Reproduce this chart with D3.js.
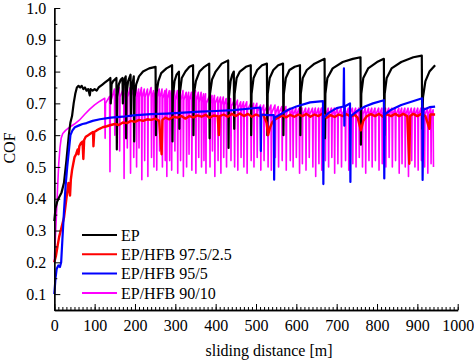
<!DOCTYPE html>
<html><head><meta charset="utf-8">
<script src="https://cdn.jsdelivr.net/npm/d3@7"></script>
<style>
body{margin:0;background:#fff;}
svg text{font-family:'Liberation Serif','DejaVu Serif',serif !important;}
</style></head>
<body><svg id="c" width="474" height="362"></svg>
<script>
const xTicks=[0,100,200,300,400,500,600,700,800,900,1000];
const yTicks=[0.1,0.2,0.3,0.4,0.5,0.6,0.7,0.8,0.9,1.0];
const seriesNames=["EP","EP/HFB 97.5/2.5","EP/HFB 95/5","EP/HFB 90/10"];
const seriesColors=["#000000","#ff0000","#0000ff","#ff00ff"];

const ep=[[0,0.33],[3,0.37],[7,0.39],[12,0.405],[18,0.42],[24,0.45],[30,0.52],[36,0.60],[40,0.64],[44,0.66],[48,0.70],[52,0.73],[56,0.75],[60,0.755],[64,0.75],[68,0.755],[72,0.745],[76,0.75],[80,0.74],[84,0.745],[88,0.725],[90,0.745],[95,0.74],[100,0.745],[105,0.74],[110,0.75],[115,0.755],[120,0.76],[125,0.765],[130,0.77],[135,0.775],[139,0.78],[140,0.70],[142,0.76],[146,0.77],[150,0.775],[154,0.78],[155,0.555],[156,0.72],[160,0.76],[165,0.775],[169,0.78],[170,0.70],[172,0.77],[177,0.785],[178,0.59],[179,0.73],[183,0.77],[189,0.79],[190,0.66],[191,0.74],[197,0.785],[198,0.58],[199,0.72],[203,0.76],[210,0.785],[220,0.80],[235,0.81],[251,0.815],[252,0.60],[253,0.73],[258,0.77],[265,0.795],[278,0.81],[292,0.82],[293,0.58],[294,0.72],[298,0.77],[303,0.79],[309,0.80],[310,0.62],[311,0.73],[316,0.78],[325,0.80],[335,0.815],[344,0.82],[345,0.60],[346,0.73],[351,0.77],[360,0.80],[372,0.815],[384,0.825],[385,0.59],[386,0.73],[391,0.775],[400,0.80],[415,0.825],[431,0.835],[432,0.56],[433,0.72],[437,0.77],[441,0.79],[445,0.80],[446,0.62],[447,0.73],[452,0.78],[460,0.80],[475,0.815],[487,0.82],[488,0.60],[489,0.73],[494,0.78],[503,0.805],[515,0.82],[527,0.825],[528,0.60],[529,0.73],[534,0.78],[543,0.805],[555,0.82],[567,0.825],[568,0.60],[569,0.73],[574,0.78],[583,0.805],[596,0.815],[609,0.82],[610,0.60],[611,0.73],[616,0.78],[626,0.805],[645,0.825],[670,0.84],[671,0.59],[672,0.73],[677,0.78],[690,0.81],[715,0.83],[740,0.84],[759,0.845],[760,0.57],[761,0.73],[766,0.78],[778,0.81],[800,0.83],[817,0.84],[818,0.60],[819,0.73],[824,0.78],[836,0.81],[860,0.83],[890,0.845],[911,0.85],[912,0.62],[914,0.72],[920,0.77],[930,0.80],[944,0.82]];

const hfb25=[[0,0.20],[4,0.22],[8,0.25],[12,0.28],[16,0.30],[20,0.32],[24,0.34],[28,0.38],[32,0.42],[35,0.45],[37,0.43],[39,0.41],[41,0.46],[44,0.49],[47,0.51],[50,0.53],[54,0.54],[58,0.555],[60,0.54],[62,0.565],[66,0.575],[70,0.58],[72,0.525],[74,0.585],[78,0.595],[84,0.60],[90,0.605],[96,0.61],[97,0.565],[99,0.61],[105,0.615],[112,0.62],[120,0.625],[130,0.628],[140,0.632],[150,0.635],[160,0.632],[170,0.64],[180,0.638],[190,0.645],[200,0.642],[210,0.648],[220,0.645],[230,0.65],[240,0.648],[250,0.652],[260,0.645],[266,0.54],[268,0.648],[275,0.655],[285,0.65],[295,0.658],[305,0.655],[315,0.66],[325,0.652],[335,0.66],[345,0.656],[355,0.662],[365,0.658],[375,0.664],[385,0.655],[395,0.662],[405,0.66],[408,0.60],[410,0.66],[420,0.665],[430,0.658],[440,0.667],[450,0.66],[460,0.668],[470,0.66],[480,0.667],[490,0.658],[500,0.665],[510,0.66],[518,0.665],[526,0.64],[530,0.60],[535,0.625],[540,0.64],[548,0.65],[555,0.655],[565,0.662],[575,0.656],[585,0.664],[595,0.658],[605,0.665],[615,0.66],[625,0.667],[635,0.658],[645,0.665],[655,0.66],[665,0.668],[675,0.655],[685,0.663],[695,0.657],[705,0.665],[715,0.66],[725,0.666],[735,0.658],[745,0.664],[752,0.655],[760,0.615],[766,0.645],[775,0.66],[785,0.666],[795,0.66],[805,0.667],[815,0.658],[825,0.665],[835,0.66],[845,0.667],[855,0.66],[865,0.667],[875,0.66],[880,0.51],[882,0.66],[890,0.667],[900,0.66],[910,0.667],[920,0.66],[930,0.62],[932,0.665],[944,0.665]];

const hfb5=[[0,0.10],[3,0.15],[6,0.18],[10,0.19],[14,0.185],[17,0.20],[20,0.27],[24,0.36],[28,0.44],[32,0.50],[36,0.55],[40,0.60],[45,0.615],[51,0.625],[60,0.63],[70,0.635],[80,0.638],[95,0.645],[113,0.65],[140,0.655],[170,0.658],[196,0.662],[240,0.666],[279,0.668],[320,0.671],[361,0.674],[400,0.676],[444,0.679],[480,0.683],[511,0.687],[512,0.55],[513,0.665],[530,0.663],[544,0.663],[545,0.46],[546,0.655],[560,0.665],[580,0.68],[600,0.69],[634,0.703],[666,0.707],[667,0.446],[668,0.655],[680,0.67],[700,0.685],[717,0.69],[718,0.81],[719,0.63],[720,0.69],[733,0.70],[734,0.453],[735,0.66],[750,0.675],[770,0.69],[790,0.70],[817,0.71],[818,0.464],[819,0.665],[835,0.68],[860,0.695],[885,0.705],[912,0.716],[913,0.459],[915,0.68],[930,0.688],[944,0.69]];

const hfb10=[[0,0.20],[2,0.26],[5,0.34],[8,0.43],[11,0.51],[14,0.56],[17,0.59],[21,0.605],[28,0.615],[38,0.625],[50,0.635],[62,0.647],[75,0.665],[88,0.682],[100,0.695],[112,0.706],[125,0.716],[126,0.59],[127,0.70],[137,0.722],[138,0.485],[139,0.70],[149,0.745],[150,0.60],[151,0.72],[161,0.75],[162,0.55],[163,0.72],[172,0.75],[173,0.464],[174,0.72],[180,0.75],[181,0.56],[182,0.72],[188,0.75],[189,0.48],[190,0.72],[196,0.75],[197,0.53],[198,0.72],[203,0.75],[204,0.50],[205,0.72],[209,0.745],[210,0.56],[211,0.72],[216,0.75],[217,0.46],[218,0.72],[223,0.745],[224,0.52],[225,0.72],[231,0.745],[232,0.47],[233,0.72],[240,0.75],[241,0.53],[242,0.72],[246,0.74],[247,0.50],[248,0.72],[253,0.745],[254,0.49],[255,0.72],[260,0.745],[261,0.55],[262,0.72],[267,0.745],[268,0.50],[269,0.715],[274,0.74],[275,0.52],[276,0.715],[278,0.745],[279,0.47],[280,0.715],[285,0.74],[286,0.52],[287,0.715],[290,0.74],[291,0.49],[292,0.715],[298,0.74],[299,0.55],[300,0.71],[305,0.74],[306,0.48],[307,0.71],[312,0.735],[313,0.52],[314,0.71],[319,0.74],[320,0.47],[321,0.71],[327,0.735],[328,0.50],[329,0.71],[333,0.735],[334,0.54],[335,0.71],[340,0.735],[341,0.49],[342,0.71],[350,0.74],[351,0.48],[352,0.71],[357,0.735],[358,0.53],[359,0.705],[364,0.735],[365,0.50],[366,0.705],[370,0.73],[371,0.52],[372,0.705],[375,0.73],[376,0.48],[377,0.70],[385,0.725],[386,0.50],[387,0.70],[391,0.725],[392,0.55],[393,0.70],[397,0.725],[398,0.47],[399,0.70],[405,0.72],[406,0.52],[407,0.70],[412,0.72],[413,0.48],[414,0.695],[419,0.72],[420,0.53],[421,0.695],[426,0.715],[427,0.50],[428,0.695],[437,0.715],[438,0.52],[439,0.69],[446,0.71],[447,0.50],[448,0.69],[454,0.71],[455,0.49],[456,0.685],[462,0.705],[463,0.53],[464,0.685],[469,0.705],[470,0.50],[471,0.685],[477,0.705],[478,0.48],[479,0.68],[487,0.70],[488,0.52],[489,0.68],[494,0.70],[495,0.50],[496,0.68],[502,0.70],[503,0.53],[504,0.675],[511,0.695],[512,0.49],[513,0.675],[519,0.695],[520,0.52],[521,0.675],[529,0.695],[530,0.50],[531,0.675],[537,0.695],[538,0.49],[539,0.67],[547,0.695],[548,0.53],[549,0.67],[555,0.69],[556,0.50],[557,0.67],[564,0.69],[565,0.52],[566,0.67],[574,0.69],[575,0.49],[576,0.67],[584,0.685],[585,0.52],[586,0.665],[591,0.685],[592,0.50],[593,0.665],[599,0.685],[600,0.53],[601,0.665],[607,0.685],[608,0.48],[609,0.665],[614,0.685],[615,0.51],[616,0.665],[623,0.685],[624,0.49],[625,0.665],[631,0.685],[632,0.53],[633,0.665],[640,0.685],[641,0.50],[642,0.665],[647,0.685],[648,0.47],[649,0.665],[655,0.685],[656,0.51],[657,0.665],[662,0.685],[663,0.49],[664,0.665],[671,0.685],[672,0.52],[673,0.665],[679,0.685],[680,0.50],[681,0.665],[687,0.685],[688,0.53],[689,0.665],[694,0.685],[695,0.48],[696,0.665],[702,0.685],[703,0.51],[704,0.665],[711,0.685],[712,0.50],[713,0.665],[721,0.685],[722,0.52],[723,0.665],[729,0.685],[730,0.49],[731,0.665],[739,0.685],[740,0.51],[741,0.665],[747,0.685],[748,0.50],[749,0.665],[755,0.685],[756,0.53],[757,0.665],[763,0.685],[764,0.50],[765,0.665],[771,0.685],[772,0.48],[773,0.665],[779,0.685],[780,0.52],[781,0.665],[787,0.685],[788,0.50],[789,0.665],[795,0.685],[796,0.52],[797,0.665],[804,0.685],[805,0.49],[806,0.665],[812,0.685],[813,0.51],[814,0.665],[821,0.685],[822,0.50],[823,0.665],[829,0.685],[830,0.53],[831,0.665],[837,0.685],[838,0.50],[839,0.665],[845,0.685],[846,0.52],[847,0.665],[854,0.685],[855,0.48],[856,0.665],[861,0.685],[862,0.51],[863,0.665],[869,0.685],[870,0.50],[871,0.665],[877,0.685],[878,0.47],[879,0.665],[885,0.685],[886,0.52],[887,0.665],[893,0.685],[894,0.50],[895,0.665],[901,0.685],[902,0.49],[903,0.665],[909,0.685],[910,0.52],[911,0.665],[917,0.685],[918,0.50],[919,0.665],[925,0.685],[926,0.48],[927,0.665],[933,0.685],[934,0.51],[935,0.665],[939,0.68],[940,0.50]];

const FONT="'Liberation Serif','DejaVu Serif',serif";
const svg=d3.select("#c");
const x=d3.scaleLinear().domain([0,1000]).range([54.3,457.7]);
const y=d3.scaleLinear().domain([0.05,1.0]).range([310,8]);

const line=d3.line().x(d=>x(d[0])).y(d=>y(d[1]));
const allSeries=[ep,hfb25,hfb5,hfb10];
const widths=[2.2,2.4,2.2,1.6];
const drawOrder=[3,0,1,2];
drawOrder.forEach(i=>{
  svg.append("path").datum(allSeries[i]).attr("d",line)
    .attr("fill","none").attr("stroke",seriesColors[i]).attr("stroke-width",widths[i])
    .attr("stroke-linejoin","round");
});

// axes
const gx=svg.append("g").attr("transform","translate(0,310)");
gx.call(d3.axisBottom(x).tickValues(d3.range(0,1001,10)).tickSize(-3).tickFormat("").tickSizeOuter(0));
const gx2=svg.append("g").attr("transform","translate(0,310)");
gx2.call(d3.axisBottom(x).tickValues(xTicks).tickSize(-6).tickPadding(10).tickSizeOuter(0).tickFormat(d3.format("d")));

const gy=svg.append("g").attr("transform","translate(54.3,0)");
gy.call(d3.axisLeft(y).tickValues(d3.range(0.05,1.0,0.1).map(v=>+v.toFixed(2))).tickSize(-3).tickFormat("").tickSizeOuter(0));
const gy2=svg.append("g").attr("transform","translate(54.3,0)");
gy2.call(d3.axisLeft(y).tickValues(yTicks).tickSize(-6).tickPadding(8).tickSizeOuter(0).tickFormat(d3.format(".1f")));
[gx,gx2,gy,gy2].forEach(g=>g.attr("font-family",FONT).attr("font-size",16));
svg.selectAll(".domain").attr("stroke-width",1.3);

svg.append("text").attr("x",269).attr("y",356).attr("text-anchor","middle")
  .attr("font-size",16).text("sliding distance [m]");
svg.append("text").attr("transform","translate(15,148) rotate(-90)").attr("text-anchor","middle")
  .attr("font-size",16).text("COF");

// legend
const lg=svg.append("g");
seriesNames.forEach((n,i)=>{
  const yy=235+i*19.3;
  lg.append("line").attr("x1",82).attr("x2",117).attr("y1",yy).attr("y2",yy)
    .attr("stroke",seriesColors[i]).attr("stroke-width",2);
  lg.append("text").attr("x",121).attr("y",yy).attr("dy","0.35em").attr("font-size",16).text(n);
});
svg.selectAll("text").style("font-family",FONT);
</script></body></html>
